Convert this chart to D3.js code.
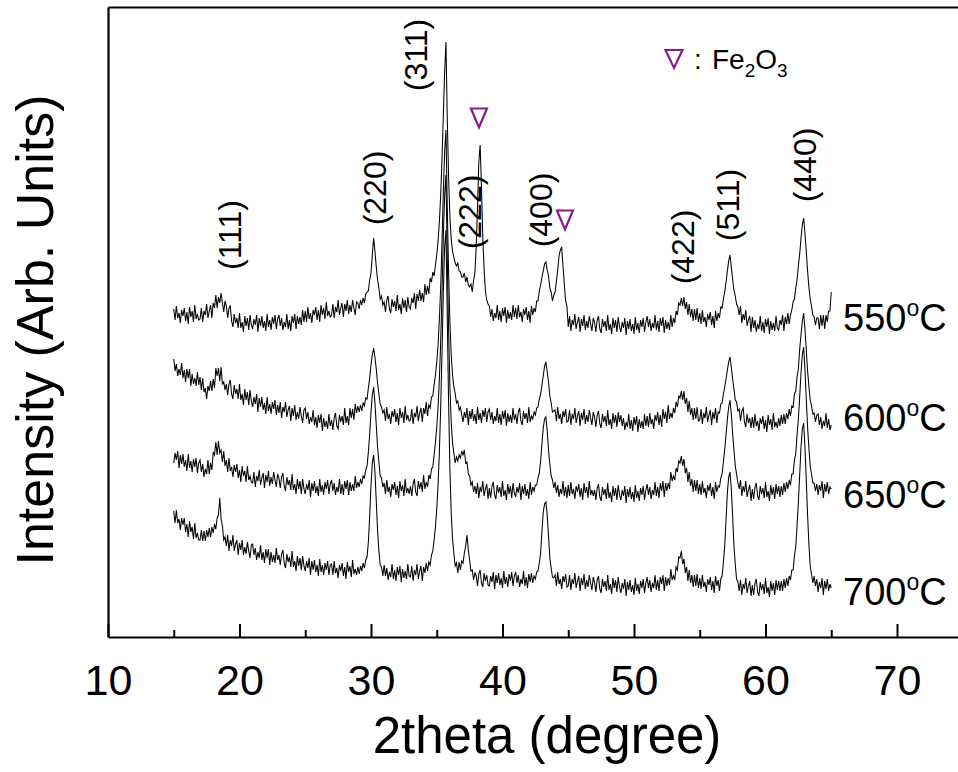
<!DOCTYPE html>
<html>
<head>
<meta charset="utf-8">
<script src="https://cdn.jsdelivr.net/npm/d3@7"></script>
<style>
  body { margin: 0; background: #fff; }
  svg { display: block; }
  text { font-family: "Liberation Sans", Arial, sans-serif; fill: #000; }
</style>
</head>
<body>
<svg id="chart" width="958" height="772"></svg>
<script>
// XRD patterns of the ferrite powders annealed at four temperatures.
// Each pattern is sampled from 15° to 65° (2θ) in 0.1° steps; intensities in arbitrary units.
const twoThetaStart = 15;
const twoThetaStep = 0.1;

const temperatures = ["550", "600", "650", "700"];
// vertical shift applied to each pattern so the four traces stack
const offsets = [300, 200, 130, 40];

const i550 = [
  28, 17, 31, 19, 24, 14, 27, 21, 29, 16, 25, 13, 30, 20, 26, 15, 32, 18, 23, 17,
  18, 29, 15, 26, 22, 33, 19, 26, 32, 19, 34, 29, 42, 29, 40, 34, 44, 34, 25, 36,
  31, 19, 29, 31, 16, 10, 23, 14, 19, 9, 24, 9, 15, 5, 21, 11, 19, 7, 22, 12,
  8, 18, 12, 22, 5, 19, 11, 21, 9, 16, 6, 23, 10, 17, 7, 20, 13, 22, 8, 18,
  22, 11, 19, 7, 15, 10, 23, 8, 17, 6, 21, 14, 23, 8, 21, 13, 20, 12, 27, 15,
  26, 15, 30, 18, 24, 14, 27, 22, 30, 17, 27, 15, 32, 22, 29, 18, 35, 21, 26, 20,
  22, 33, 19, 30, 25, 37, 22, 29, 34, 20, 33, 26, 37, 23, 32, 25, 37, 29, 22, 35,
  34, 28, 37, 32, 39, 34, 43, 45, 46, 57, 64, 82, 99, 86, 70, 57, 49, 38, 41, 32,
  35, 25, 37, 41, 28, 24, 38, 30, 36, 26, 42, 27, 33, 23, 39, 29, 37, 25, 40, 30,
  28, 39, 34, 44, 28, 43, 36, 47, 36, 44, 35, 53, 42, 51, 43, 59, 55, 65, 61, 72,
  82, 96, 115, 142, 178, 222, 265, 295, 218, 160, 120, 98, 86, 80, 74, 71, 74, 66, 65, 60,
  60, 64, 55, 60, 52, 50, 53, 45, 56, 64, 90, 130, 175, 192, 150, 100, 68, 46, 37, 33,
  31, 20, 28, 16, 24, 19, 32, 17, 26, 15, 29, 21, 30, 14, 27, 18, 25, 17, 32, 20,
  29, 18, 32, 20, 25, 15, 28, 22, 30, 17, 26, 14, 31, 22, 29, 25, 36, 36, 46, 52,
  60, 66, 73, 75, 67, 61, 49, 45, 36, 42, 45, 56, 67, 81, 87, 90, 71, 53, 36, 31,
  10, 21, 6, 17, 12, 23, 8, 15, 20, 5, 18, 11, 22, 7, 16, 9, 21, 13, 6, 19,
  15, 5, 17, 21, 8, 4, 18, 10, 16, 6, 22, 7, 13, 3, 19, 9, 17, 5, 20, 10,
  5, 15, 9, 19, 2, 16, 8, 18, 6, 13, 3, 20, 7, 14, 4, 17, 10, 19, 5, 15,
  21, 10, 18, 6, 14, 9, 22, 7, 16, 5, 19, 11, 20, 4, 17, 8, 15, 7, 22, 10,
  19, 14, 26, 22, 34, 32, 39, 31, 40, 28, 35, 22, 33, 20, 28, 16, 28, 17, 29, 15,
  24, 13, 27, 15, 20, 10, 23, 17, 25, 12, 21, 9, 26, 16, 24, 19, 30, 29, 38, 45,
  55, 66, 76, 82, 70, 58, 47, 41, 33, 30, 22, 31, 14, 23, 17, 27, 11, 17, 21, 5,
  20, 9, 17, 5, 13, 8, 21, 6, 15, 4, 18, 10, 19, 3, 16, 7, 14, 6, 21, 9,
  7, 17, 12, 22, 6, 20, 13, 24, 13, 22, 27, 35, 38, 49, 57, 71, 83, 99, 112, 119,
  104, 86, 66, 50, 38, 31, 22, 20, 12, 19, 19, 8, 22, 11, 22, 8, 22, 15, 26, 26,
  45
];

const i600 = [
  78, 66, 73, 61, 68, 62, 74, 59, 67, 55, 68, 59, 68, 51, 63, 53, 59, 51, 65, 52,
  60, 47, 59, 45, 49, 38, 51, 46, 56, 46, 58, 49, 69, 61, 69, 56, 70, 53, 55, 47,
  53, 42, 53, 57, 43, 38, 52, 43, 48, 38, 53, 37, 43, 32, 48, 37, 45, 32, 47, 36,
  30, 40, 33, 43, 25, 39, 30, 40, 27, 34, 23, 40, 26, 33, 23, 35, 28, 37, 22, 32,
  24, 35, 19, 30, 25, 35, 20, 27, 31, 16, 29, 21, 32, 17, 25, 18, 30, 21, 14, 27,
  29, 18, 25, 13, 20, 15, 27, 12, 20, 9, 22, 14, 23, 6, 19, 10, 16, 8, 23, 11,
  17, 7, 19, 24, 11, 8, 22, 15, 21, 12, 29, 14, 21, 12, 29, 19, 28, 17, 33, 24,
  31, 25, 32, 26, 34, 31, 39, 38, 49, 59, 72, 82, 89, 80, 68, 54, 43, 33, 30, 24,
  27, 16, 30, 18, 23, 13, 26, 20, 28, 15, 24, 12, 29, 19, 25, 14, 31, 17, 22, 16,
  17, 28, 13, 24, 20, 31, 16, 24, 29, 15, 29, 23, 35, 21, 32, 29, 40, 41, 52, 62,
  75, 92, 118, 150, 195, 245, 285, 307, 230, 165, 115, 82, 62, 50, 44, 34, 36, 27, 30, 22,
  15, 25, 19, 29, 12, 26, 18, 28, 16, 23, 13, 30, 17, 24, 14, 27, 20, 29, 15, 25,
  28, 17, 25, 13, 21, 16, 29, 14, 23, 12, 26, 18, 27, 11, 24, 15, 22, 14, 29, 17,
  23, 13, 25, 29, 16, 12, 26, 18, 24, 14, 30, 15, 21, 18, 25, 22, 29, 30, 38, 43,
  52, 61, 71, 75, 65, 55, 41, 34, 25, 26, 27, 16, 30, 18, 23, 13, 26, 20, 28, 15,
  16, 27, 12, 23, 18, 29, 14, 21, 26, 11, 24, 17, 28, 13, 22, 15, 27, 19, 12, 25,
  20, 10, 22, 26, 13, 9, 23, 15, 21, 11, 27, 12, 18, 8, 24, 14, 22, 10, 25, 15,
  22, 11, 19, 7, 15, 10, 23, 8, 17, 6, 20, 12, 21, 5, 18, 9, 16, 8, 23, 11,
  21, 10, 24, 13, 18, 8, 22, 16, 25, 12, 22, 10, 28, 18, 25, 14, 32, 18, 24, 19,
  29, 24, 35, 30, 41, 39, 46, 37, 46, 33, 39, 25, 36, 22, 29, 17, 29, 18, 30, 16,
  17, 28, 13, 24, 19, 30, 15, 22, 27, 12, 25, 18, 29, 14, 25, 24, 33, 34, 43, 50,
  58, 67, 75, 80, 70, 58, 48, 37, 35, 26, 28, 16, 26, 29, 15, 10, 23, 14, 19, 9,
  20, 9, 23, 11, 16, 6, 19, 13, 21, 8, 17, 5, 22, 12, 18, 7, 24, 10, 15, 9,
  19, 11, 22, 13, 23, 13, 24, 18, 28, 21, 31, 30, 43, 46, 60, 68, 88, 102, 116, 124,
  108, 88, 66, 51, 37, 31, 23, 24, 15, 22, 23, 12, 20, 8, 16, 11, 24, 9, 18, 7,
  12
];

const i650 = [
  44, 54, 47, 56, 39, 52, 43, 53, 40, 47, 36, 53, 39, 46, 35, 48, 40, 49, 34, 44,
  47, 35, 43, 30, 38, 33, 47, 33, 44, 37, 55, 52, 65, 52, 66, 54, 57, 45, 56, 41,
  47, 35, 49, 36, 40, 30, 42, 35, 43, 29, 37, 25, 41, 31, 36, 25, 41, 27, 31, 25,
  24, 35, 20, 31, 26, 37, 22, 29, 34, 19, 32, 25, 36, 21, 30, 23, 35, 27, 20, 33,
  29, 19, 30, 34, 21, 16, 30, 22, 27, 17, 33, 17, 23, 13, 28, 18, 26, 13, 28, 18,
  13, 23, 17, 27, 10, 24, 16, 26, 14, 21, 11, 28, 15, 22, 12, 25, 18, 27, 13, 23,
  27, 16, 24, 12, 20, 15, 28, 13, 23, 12, 26, 18, 27, 12, 25, 16, 23, 16, 31, 19,
  25, 20, 28, 23, 31, 29, 37, 41, 55, 73, 95, 112, 120, 104, 82, 60, 45, 31, 29, 20,
  24, 13, 27, 15, 20, 10, 23, 17, 25, 12, 21, 9, 26, 16, 22, 11, 28, 14, 19, 13,
  21, 11, 23, 28, 15, 11, 26, 18, 25, 15, 32, 18, 25, 20, 32, 28, 38, 40, 52, 64,
  80, 100, 128, 165, 215, 270, 312, 332, 250, 178, 120, 85, 64, 54, 44, 50, 46, 52, 49, 56,
  52, 57, 44, 45, 33, 31, 22, 25, 15, 21, 13, 24, 9, 20, 15, 26, 11, 18, 23, 8,
  19, 9, 21, 25, 12, 8, 22, 14, 20, 10, 26, 11, 17, 7, 23, 13, 21, 9, 24, 14,
  10, 20, 14, 24, 7, 21, 13, 23, 11, 18, 8, 25, 12, 20, 16, 22, 22, 29, 34, 46,
  63, 79, 88, 90, 76, 57, 43, 31, 27, 19, 25, 14, 22, 10, 18, 13, 26, 11, 20, 9,
  22, 11, 25, 13, 18, 8, 21, 15, 23, 10, 19, 7, 24, 14, 20, 9, 26, 12, 17, 11,
  17, 7, 19, 23, 10, 6, 20, 12, 18, 8, 24, 9, 15, 5, 21, 11, 19, 7, 22, 12,
  7, 17, 11, 21, 4, 18, 10, 20, 8, 15, 5, 22, 9, 16, 6, 19, 12, 21, 7, 17,
  23, 12, 20, 8, 17, 12, 25, 11, 20, 9, 24, 16, 26, 10, 24, 16, 24, 18, 35, 26,
  31, 27, 39, 35, 46, 44, 51, 41, 48, 34, 39, 25, 35, 21, 28, 15, 27, 16, 27, 13,
  23, 12, 26, 14, 19, 9, 22, 16, 24, 11, 20, 8, 25, 15, 21, 20, 29, 33, 45, 58,
  72, 88, 100, 107, 93, 73, 57, 41, 33, 24, 18, 27, 11, 21, 15, 26, 10, 17, 22, 6,
  18, 8, 20, 24, 11, 7, 21, 13, 19, 9, 25, 10, 16, 6, 22, 12, 20, 8, 23, 13,
  21, 10, 21, 12, 24, 15, 25, 18, 27, 22, 33, 33, 47, 53, 72, 88, 110, 134, 152, 160,
  138, 108, 80, 59, 41, 33, 24, 24, 16, 23, 12, 22, 16, 26, 9, 23, 15, 25, 13, 20,
  18
];

const i700 = [
  86, 74, 87, 74, 78, 67, 79, 72, 79, 65, 73, 60, 76, 65, 70, 58, 74, 59, 64, 57,
  57, 67, 56, 66, 56, 67, 60, 69, 60, 70, 64, 73, 68, 79, 82, 99, 78, 71, 57, 60,
  51, 62, 46, 57, 51, 62, 46, 53, 57, 42, 54, 47, 57, 42, 50, 43, 55, 46, 39, 52,
  53, 42, 49, 37, 45, 39, 52, 37, 45, 34, 48, 39, 48, 32, 45, 35, 42, 34, 49, 37,
  42, 32, 43, 47, 34, 29, 43, 35, 40, 30, 46, 30, 36, 26, 41, 31, 39, 27, 41, 31,
  26, 36, 29, 39, 22, 36, 27, 37, 25, 32, 21, 38, 25, 32, 22, 34, 27, 36, 22, 32,
  33, 22, 36, 24, 29, 19, 32, 26, 34, 21, 30, 18, 35, 25, 31, 20, 37, 23, 28, 22,
  30, 23, 31, 26, 34, 29, 37, 40, 55, 81, 112, 134, 142, 125, 96, 66, 46, 32, 30, 21,
  32, 21, 29, 17, 25, 20, 33, 18, 27, 16, 30, 22, 31, 15, 28, 19, 26, 18, 33, 21,
  20, 31, 16, 27, 22, 33, 18, 26, 31, 16, 30, 24, 34, 26, 35, 32, 42, 46, 57, 70,
  88, 112, 145, 190, 245, 305, 350, 367, 280, 195, 128, 84, 58, 44, 31, 34, 24, 35, 27, 36,
  34, 44, 51, 62, 47, 37, 26, 27, 17, 24, 21, 11, 23, 27, 14, 10, 24, 16, 22, 12,
  11, 21, 15, 25, 8, 22, 14, 24, 12, 19, 9, 26, 13, 20, 10, 23, 16, 25, 11, 21,
  25, 14, 22, 10, 18, 13, 26, 11, 20, 9, 23, 15, 24, 14, 21, 18, 25, 26, 34, 44,
  66, 85, 93, 95, 82, 61, 39, 29, 20, 19, 22, 11, 25, 13, 18, 8, 21, 15, 23, 10,
  11, 22, 7, 18, 13, 24, 9, 16, 21, 6, 19, 12, 23, 8, 17, 10, 22, 14, 7, 20,
  15, 5, 17, 21, 8, 4, 18, 10, 16, 6, 22, 7, 13, 3, 19, 9, 17, 5, 20, 10,
  4, 14, 8, 18, 1, 15, 7, 17, 5, 12, 2, 19, 6, 13, 3, 16, 9, 18, 4, 14,
  20, 9, 17, 5, 14, 9, 22, 7, 17, 6, 20, 13, 22, 6, 20, 11, 19, 12, 28, 17,
  21, 17, 30, 27, 40, 39, 46, 33, 38, 24, 30, 16, 27, 14, 22, 10, 22, 11, 23, 9,
  19, 8, 22, 10, 15, 5, 18, 12, 20, 7, 16, 4, 21, 11, 17, 6, 18, 21, 35, 51,
  78, 104, 120, 125, 108, 81, 51, 33, 18, 15, 6, 17, 2, 13, 8, 19, 4, 11, 16, 1,
  12, 2, 14, 18, 5, 1, 15, 7, 13, 3, 19, 4, 10, 0, 16, 6, 14, 2, 17, 7,
  16, 6, 16, 6, 18, 9, 19, 11, 21, 17, 27, 27, 41, 50, 71, 95, 122, 150, 168, 174,
  150, 118, 82, 53, 31, 23, 14, 21, 11, 18, 5, 15, 9, 19, 2, 16, 8, 18, 6, 13,
  9
];

const patterns = [i550, i600, i650, i700];
// level (stacked intensity) at which each temperature tag is written
const tempLabelLevels = [319, 219, 142, 45];

// spinel reflections: Miller indices and the 2θ / level where each is written
const hklLabels = ["(111)", "(220)", "(311)", "(222)", "(400)", "(422)", "(511)", "(440)"];
const hklTheta  = [19.28, 30.30, 33.42, 37.53, 42.93, 53.73, 57.15, 63.0];
const hklLevel  = [402, 449, 582, 425, 427, 390, 432, 472];

// hematite (Fe2O3) reflections marked on the 550 °C pattern
const hematiteTheta = [38.21, 44.75];
const hematiteLevel = [519, 417];

const xTicksMajor = [10, 20, 30, 40, 50, 60, 70];
const xTicksMinor = [15, 25, 35, 45, 55, 65, 75];

// ---------- drawing ----------
const svg = d3.select("#chart");
const margin = { left: 108, top: 7, bottom: 637 };

const x = d3.scaleLinear().domain([10, 75]).range([margin.left, margin.left + 65 * 13.15]);
const y = d3.scaleLinear().domain([0, 630]).range([margin.bottom, margin.top]);

const purple = "#8b1a8b";

// traces
const line = d3.line()
  .x((d, i) => x(twoThetaStart + i * twoThetaStep))
  .y(d => y(d));

svg.append("g")
  .selectAll("path")
  .data(patterns)
  .join("path")
  .attr("d", (p, k) => line(p.map(v => v + offsets[k])))
  .attr("fill", "none")
  .attr("stroke", "#000")
  .attr("stroke-width", 1.05)
  .attr("stroke-linejoin", "miter");

// axes
const axisStyle = g => {
  g.select(".domain").attr("stroke", "#000").attr("stroke-width", 2.2);
  g.selectAll(".tick line").attr("stroke", "#000").attr("stroke-width", 2);
};

svg.append("g")
  .attr("transform", `translate(0,${margin.bottom})`)
  .call(d3.axisBottom(x).tickValues(xTicksMinor).tickSizeInner(-7).tickSizeOuter(0).tickFormat(""))
  .call(g => g.select(".domain").remove())
  .call(axisStyle);

svg.append("g")
  .attr("transform", `translate(0,${margin.bottom})`)
  .call(d3.axisBottom(x).tickValues(xTicksMajor).tickSizeInner(-13).tickSizeOuter(0).tickPadding(27).tickFormat(d3.format("d")))
  .call(axisStyle)
  .call(g => g.selectAll(".tick text")
    .attr("font-size", 43)
    .attr("font-family", "'Liberation Sans', Arial, sans-serif")
    .attr("fill", "#000"));

svg.append("g")
  .attr("transform", `translate(${margin.left},0)`)
  .call(d3.axisLeft(y).tickValues([]).tickSizeOuter(0))
  .call(axisStyle);

svg.append("g")
  .attr("transform", `translate(0,${margin.top})`)
  .call(d3.axisTop(x).tickValues([]).tickSizeOuter(0))
  .call(axisStyle);

// axis titles
svg.append("text")
  .attr("x", 547).attr("y", 753)
  .attr("text-anchor", "middle")
  .attr("font-size", 51)
  .text("2theta (degree)");

svg.append("text")
  .attr("transform", "translate(53,330) rotate(-90)")
  .attr("text-anchor", "middle")
  .attr("font-size", 52)
  .text("Intensity (Arb. Units)");

// temperature tags, degree sign as a raised small "o"
const tags = svg.append("g")
  .selectAll("text")
  .data(temperatures)
  .join("text")
  .attr("x", 843)
  .attr("y", (d, i) => y(tempLabelLevels[i]) + 13)
  .attr("font-size", 38);
tags.append("tspan").text(d => d);
tags.append("tspan").attr("font-size", 23).attr("dy", -15).text("o");
tags.append("tspan").attr("dy", 15).text("C");

// Miller index labels, written upward
svg.append("g")
  .selectAll("text")
  .data(hklLabels)
  .join("text")
  .attr("transform", (d, i) => `translate(${x(hklTheta[i])},${y(hklLevel[i])}) rotate(-90)`)
  .attr("text-anchor", "middle")
  .attr("dominant-baseline", "central")
  .attr("font-size", 32)
  .text(d => d);

// downward open triangles for Fe2O3
const tri = (cx, cy, w, h) =>
  `M${cx - w / 2},${cy - h / 2}L${cx + w / 2},${cy - h / 2}L${cx},${cy + h / 2}Z`;

svg.append("g")
  .selectAll("path")
  .data(hematiteTheta)
  .join("path")
  .attr("d", (t, i) => tri(x(t), y(hematiteLevel[i]), 16, 19))
  .attr("fill", "none")
  .attr("stroke", purple)
  .attr("stroke-width", 2.2);

// key
svg.append("path")
  .attr("d", tri(674, 59, 17, 18))
  .attr("fill", "none")
  .attr("stroke", purple)
  .attr("stroke-width", 2.2);

svg.append("text").attr("x", 694).attr("y", 69).attr("font-size", 28).text(":");
const key = svg.append("text").attr("x", 712).attr("y", 69).attr("font-size", 28);
key.append("tspan").text("Fe");
key.append("tspan").attr("font-size", 19).attr("dy", 8).text("2");
key.append("tspan").attr("dy", -8).text("O");
key.append("tspan").attr("font-size", 19).attr("dy", 8).text("3");
</script>
</body>
</html>
